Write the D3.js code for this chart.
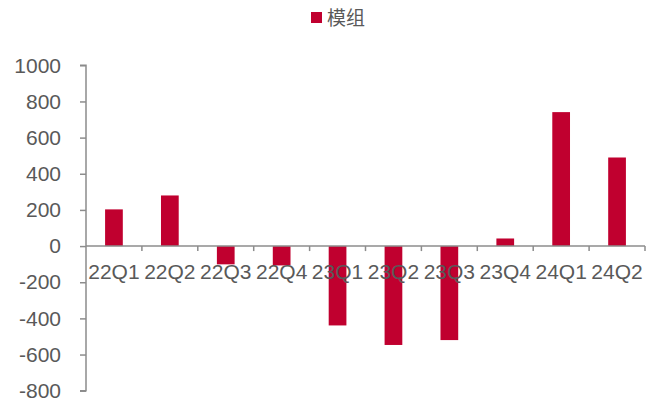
<!DOCTYPE html>
<html><head><meta charset="utf-8">
<script src="https://cdn.jsdelivr.net/npm/d3@7"></script>
<style>body{margin:0;background:#fff}svg{display:block}</style>
</head><body><div id="chart"></div>
<script>
const categories = ["22Q1","22Q2","22Q3","22Q4","23Q1","23Q2","23Q3","23Q4","24Q1","24Q2"];
const seriesName = "模组";
const values = [203, 280, -101, -107, -439, -547, -520, 42, 741, 490];
const yTicks = [-800,-600,-400,-200,0,200,400,600,800,1000];

const W = 657, H = 402;
const svg = d3.select("#chart").append("svg").attr("width", W).attr("height", H);
const plot = {left: 86, right: 645, top: 65.3, bottom: 390.7};
const x = d3.scaleBand().domain(categories).range([plot.left, plot.right]).paddingInner(0.683).paddingOuter(0.3415);
const y = d3.scaleLinear().domain([-800, 1000]).range([plot.bottom, plot.top]);
const axisColor = "#8c8c8c", textColor = "#595959", barColor = "#C0002F";
const font = "'Liberation Sans', Arial, sans-serif";

// y axis
const ya = svg.append("g").attr("transform", `translate(${plot.left},0)`)
  .call(d3.axisLeft(y).tickValues(yTicks).tickSize(6).tickPadding(19).tickFormat(d => String(d)));
ya.select(".domain").attr("stroke", axisColor).attr("stroke-width", 1.5).attr("d", `M-6,${y(1000)}H0V${y(-800)}H-6`);
ya.selectAll(".tick line").attr("stroke", axisColor).attr("stroke-width", 1.5);
ya.selectAll(".tick text").attr("fill", textColor).style("font-family", font).style("font-size", "21px");

// bars
svg.append("g").selectAll("rect").data(values).join("rect")
  .attr("x", (d,i) => x(categories[i]))
  .attr("width", x.bandwidth())
  .attr("y", d => y(Math.max(0, d)))
  .attr("height", d => Math.abs(y(d) - y(0)))
  .attr("fill", barColor);

// x axis at zero
const x0 = y(0);
const xa = svg.append("g");
xa.append("line").attr("x1", plot.left).attr("x2", plot.right).attr("y1", x0).attr("y2", x0)
  .attr("stroke", axisColor).attr("stroke-width", 1.5);
const step = x.step();
xa.selectAll("line.t").data(d3.range(1, categories.length + 1)).join("line").attr("class","t")
  .attr("x1", i => plot.left + i * step).attr("x2", i => plot.left + i * step)
  .attr("y1", x0).attr("y2", x0 + 5).attr("stroke", axisColor).attr("stroke-width", 1.5);
xa.selectAll("text").data(categories).join("text")
  .attr("x", d => x(d) + x.bandwidth()/2).attr("y", x0 + 32.5)
  .attr("text-anchor", "middle").attr("fill", textColor)
  .style("font-family", font).style("font-size", "21px")
  .text(d => d);

// legend
const lg = svg.append("g");
lg.append("rect").attr("x", 311).attr("y", 12).attr("width", 11).attr("height", 11).attr("fill", barColor);
lg.append("text").attr("x", 327).attr("y", 24.5).attr("fill", textColor)
  .style("font-family", "'Noto Sans CJK SC', sans-serif").style("font-size", "19px").text(seriesName);
</script></body></html>
